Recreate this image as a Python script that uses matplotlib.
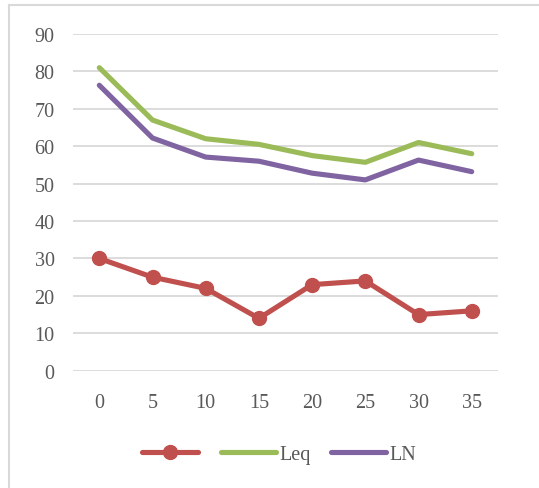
import matplotlib
matplotlib.use("Agg")
import matplotlib.pyplot as plt
from matplotlib.lines import Line2D

categories = ["0", "5", "10", "15", "20", "25", "30", "35"]
red_vals = [30, 25, 22, 14, 23, 24, 15, 16]
leq_vals = [81, 67, 62, 60.5, 57.5, 55.7, 61, 58]
ln_vals = [76.3, 62.2, 57.1, 56, 52.8, 51, 56.3, 53.2]
y_ticks = [0, 10, 20, 30, 40, 50, 60, 70, 80, 90]

RED = "#C0504D"
GREEN = "#9BBB59"
PURPLE = "#8064A2"
TXT = "#595959"

plt.rcParams['font.family'] = ['Liberation Serif', 'DejaVu Serif']

W, H = 539, 489
fig = plt.figure(figsize=(W / 100, H / 100), dpi=100)
ax = fig.add_axes([72.7 / W, 1 - 371.7 / H, (498.3 - 72.7) / W, (371.7 - 35) / H])

x = list(range(len(categories)))
lw = 3.7
ax.plot(x, red_vals, color=RED, lw=lw, marker='o', markersize=10, solid_capstyle='round', zorder=3)
ax.plot(x, leq_vals, color=GREEN, lw=lw, solid_capstyle='round', zorder=3)
ax.plot(x, ln_vals, color=PURPLE, lw=lw, solid_capstyle='round', zorder=3)

ax.set_xlim(-0.5, len(categories) - 0.5)
ax.set_ylim(0, 90)
ax.set_yticks(y_ticks)
ax.set_xticks(x)
ax.set_xticklabels(categories)
ax.grid(axis='y', color='#D9D9D9', lw=1.3)
ax.set_axisbelow(True)
for s in ax.spines.values():
    s.set_visible(False)
ax.tick_params(length=0, labelsize=14.5, colors=TXT, pad=13)
ax.tick_params(axis='x', pad=16)

handles = [
    Line2D([0], [0], color=RED, lw=lw, marker='o', markersize=10, solid_capstyle='round'),
    Line2D([0], [0], color=GREEN, lw=lw, solid_capstyle='round'),
    Line2D([0], [0], color=PURPLE, lw=lw, solid_capstyle='round'),
]
leg = fig.legend(handles, ["", "Leq", "LN"], loc='center', bbox_to_anchor=(279 / W, 1 - 455 / H),
                 ncol=3, frameon=False, fontsize=14.5, handlelength=2.75, handletextpad=0.15,
                 columnspacing=1.0, labelcolor=TXT)

# chart-area border (top and left visible)
fig.add_artist(Line2D([9 / W, 9 / W], [0, 1 - 6 / H], color='#D9D9D9', lw=1.5, transform=fig.transFigure))
fig.add_artist(Line2D([9 / W, 1], [1 - 6 / H, 1 - 6 / H], color='#D9D9D9', lw=1.5, transform=fig.transFigure))

fig.savefig("out.png", dpi=100)
